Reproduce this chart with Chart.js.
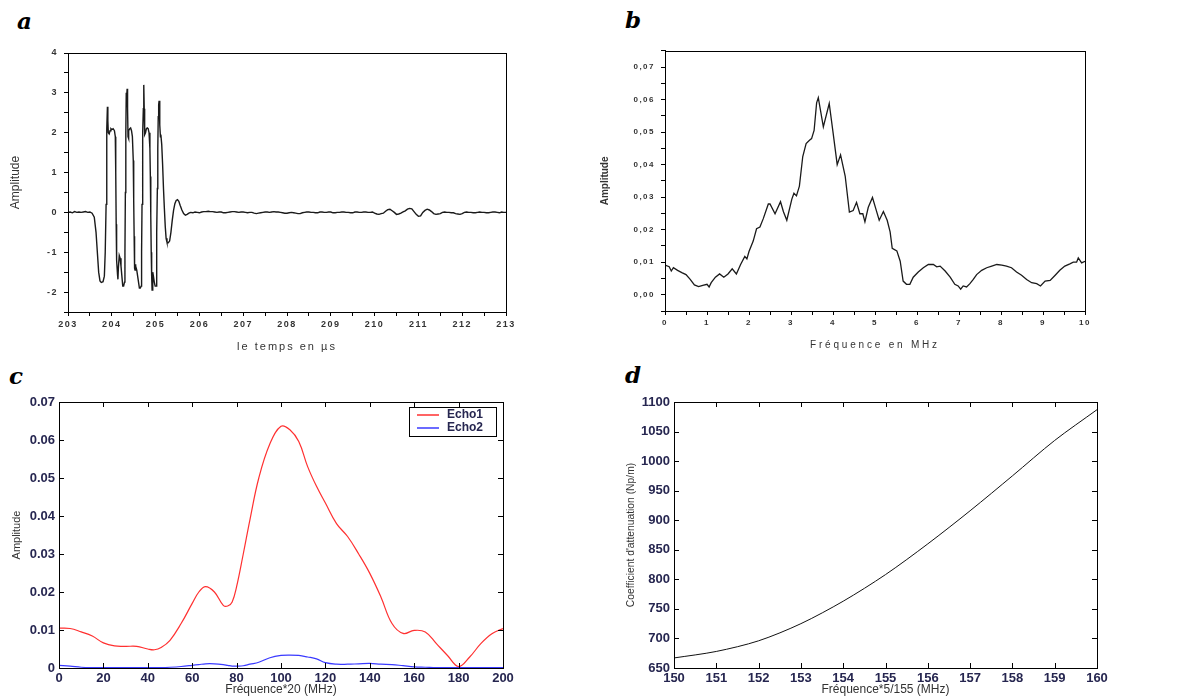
<!DOCTYPE html>
<html>
<head>
<meta charset="utf-8">
<script src="https://cdn.jsdelivr.net/npm/chart.js@4.4.0/dist/chart.umd.min.js"></script>
<style>
body { margin: 0; background: #fff; }
#wrap { position: relative; width: 1193px; height: 697px; overflow: hidden; }
canvas { position: absolute; }
.lbl { position: absolute; font-family: "DejaVu Serif", serif; font-weight: bold; font-style: italic; font-size: 23px; line-height: 23px; color: #000; }
</style>
</head>
<body>
<div id="wrap">
  <div class="lbl" style="left:17px;top:9px">a</div>
  <div class="lbl" style="left:625px;top:8px">b</div>
  <div class="lbl" style="left:9px;top:364px">c</div>
  <div class="lbl" style="left:625px;top:363px">d</div>
  <canvas id="chartA" width="540" height="320" style="left:0;top:40px"></canvas>
  <canvas id="chartB" width="520" height="320" style="left:590px;top:40px"></canvas>
  <canvas id="chartC" width="540" height="309" style="left:0;top:388px"></canvas>
  <canvas id="chartD" width="540" height="309" style="left:590px;top:388px"></canvas>
</div>
<script>
/* a : signal temporel */
var aTime = [203.00, 203.05, 203.10, 203.15, 203.20, 203.25, 203.30, 203.35, 203.40, 203.45, 203.50, 203.55,
  203.60, 203.64, 203.67, 203.70, 203.73, 203.76, 203.80, 203.83, 203.85, 203.87, 203.88, 203.89, 203.90, 203.91,
  203.92, 203.94, 203.96, 203.98, 204.00, 204.03, 204.06, 204.08, 204.09, 204.10, 204.11, 204.13, 204.14, 204.15,
  204.17, 204.19, 204.21, 204.23, 204.25, 204.27, 204.29, 204.30, 204.31, 204.32, 204.33, 204.34, 204.35, 204.36,
  204.37, 204.38, 204.39, 204.41, 204.43, 204.45, 204.47, 204.49, 204.50, 204.51, 204.52, 204.53, 204.54, 204.55,
  204.57, 204.59, 204.61, 204.63, 204.65, 204.67, 204.68, 204.69, 204.70, 204.71, 204.72, 204.73, 204.74, 204.75,
  204.77, 204.79, 204.81, 204.83, 204.85, 204.87, 204.88, 204.89, 204.90, 204.91, 204.92, 204.93, 204.94, 204.95,
  204.97, 204.99, 205.01, 205.02, 205.03, 205.04, 205.05, 205.06, 205.07, 205.08, 205.09, 205.10, 205.11, 205.12,
  205.14, 205.16, 205.18, 205.20, 205.22, 205.24, 205.26, 205.29, 205.32, 205.35, 205.38, 205.41, 205.44, 205.47,
  205.50, 205.53, 205.56, 205.60, 205.64, 205.68, 205.72, 205.76, 205.80, 205.85, 205.90, 205.95, 206.00, 206.05,
  206.10, 206.15, 206.20, 206.25, 206.30, 206.35, 206.40, 206.45, 206.50, 206.55, 206.60, 206.65, 206.70, 206.75,
  206.80, 206.85, 206.90, 206.95, 207.00, 207.05, 207.10, 207.15, 207.20, 207.25, 207.30, 207.35, 207.40, 207.45,
  207.50, 207.55, 207.60, 207.65, 207.70, 207.75, 207.80, 207.85, 207.90, 207.95, 208.00, 208.05, 208.10, 208.15,
  208.20, 208.25, 208.30, 208.35, 208.40, 208.45, 208.50, 208.55, 208.60, 208.65, 208.70, 208.75, 208.80, 208.85,
  208.90, 208.95, 209.00, 209.05, 209.10, 209.15, 209.20, 209.25, 209.30, 209.35, 209.40, 209.45, 209.50, 209.55,
  209.60, 209.65, 209.70, 209.75, 209.80, 209.85, 209.90, 209.95, 210.00, 210.05, 210.10, 210.15, 210.20, 210.25,
  210.30, 210.35, 210.40, 210.45, 210.50, 210.55, 210.60, 210.65, 210.70, 210.75, 210.80, 210.85, 210.90, 210.95,
  211.00, 211.05, 211.10, 211.15, 211.20, 211.25, 211.30, 211.35, 211.40, 211.45, 211.50, 211.55, 211.60, 211.65,
  211.70, 211.75, 211.80, 211.85, 211.90, 211.95, 212.00, 212.05, 212.10, 212.15, 212.20, 212.25, 212.30, 212.35,
  212.40, 212.45, 212.50, 212.55, 212.60, 212.65, 212.70, 212.75, 212.80, 212.85, 212.90, 212.95, 213.00];
var aAmp = [0, 0.01, -0.01, 0.02, 0, 0.01, 0, 0.01, 0.02, 0, 0.01, -0.02,
  -0.12, -0.5, -1.0, -1.5, -1.72, -1.76, -1.74, -1.6, -1.0, 0.2, 1.5, 2.1, 2.65, 2.3,
  2.0, 1.97, 2.05, 2.1, 2.08, 2.1, 2.05, 1.9, 1.0, -0.3, -1.2, -1.55, -1.68, -1.4,
  -1.08, -1.15, -1.35, -1.6, -1.85, -1.85, -1.75, -1.0, 0.5, 2.0, 3.0, 2.9, 3.1, 2.6,
  1.9, 1.85, 2.05, 2.1, 2.12, 2.05, 1.9, 1.3, 0.3, -0.6, -1.4, -1.45, -1.3, -1.35,
  -1.45, -1.6, -1.75, -1.9, -1.9, -1.85, -1.0, 0.2, 1.5, 2.0, 2.6, 3.2, 2.6, 1.95,
  2.0, 2.1, 2.12, 2.1, 2.0, 1.6, 0.9, -0.1, -1.0, -1.6, -1.95, -1.85, -1.5, -1.6,
  -1.75, -1.85, -1.85, -1.5, -0.5, 0.6, 1.6, 2.4, 2.7, 2.8, 2.5, 2.2, 1.9, 1.95,
  1.7, 1.2, 0.6, 0.1, -0.35, -0.65, -0.75, -0.76, -0.72, -0.5, -0.2, 0.05, 0.22, 0.3,
  0.32, 0.28, 0.18, 0.06, -0.03, -0.07, -0.05, -0.02, 0, -0.01, 0.01, 0, -0.01, 0.01,
  0.02, 0.02, 0.03, 0.02, 0.02, 0.01, 0, 0.01, 0.01, -0.01, -0.01, 0, 0.01, 0.02,
  0.02, 0.01, 0, 0.01, 0.01, 0, -0.01, 0, 0, -0.02, -0.03, -0.02, -0.01, 0,
  0.01, 0.01, 0, 0.01, 0.02, 0.01, 0.01, 0, -0.01, -0.02, -0.02, -0.01, 0, -0.01,
  -0.02, -0.03, -0.03, -0.01, 0, 0.01, 0.01, 0, 0, -0.01, -0.01, 0.01, 0.01, 0,
  0, 0.01, 0.01, -0.01, -0.01, 0, 0, 0.01, 0.01, 0, 0, -0.01, -0.01, 0.01,
  0.01, 0, 0, 0.01, 0.01, 0, 0, 0.01, -0.02, -0.04, -0.05, -0.03, -0.02, 0.03,
  0.07, 0.08, 0.04, 0, -0.05, -0.04, -0.02, 0.01, 0.04, 0.08, 0.1, 0.09, 0.02, -0.05,
  -0.1, -0.09, 0, 0.05, 0.08, 0.06, 0.02, -0.03, -0.05, -0.04, -0.03, 0, 0.01, 0,
  0, -0.01, -0.01, -0.03, -0.04, -0.05, -0.03, 0, 0.01, 0, 0, -0.01, -0.01, 0,
  0.01, 0, 0, -0.01, -0.01, 0, 0.01, 0.01, 0, -0.01, 0.01, 0, 0];

/* b : spectre */
var bFreq = [0.0, 0.1, 0.15, 0.2, 0.3, 0.4, 0.5, 0.6, 0.7, 0.8, 0.9, 1.0, 1.05, 1.1, 1.2, 1.3, 1.4, 1.5, 1.6, 1.7,
  1.8, 1.9, 1.95, 2.0, 2.1, 2.18, 2.26, 2.34, 2.46, 2.5, 2.62, 2.75, 2.82, 2.9, 3.02, 3.07, 3.13, 3.2, 3.28, 3.36,
  3.44, 3.49, 3.55, 3.61, 3.65, 3.77, 3.91, 4.0, 4.1, 4.18, 4.29, 4.39, 4.48, 4.56, 4.64, 4.71, 4.76, 4.84, 4.94, 5.02,
  5.1, 5.2, 5.29, 5.36, 5.41, 5.52, 5.6, 5.67, 5.75, 5.83, 5.91, 6.03, 6.15, 6.27, 6.39, 6.47, 6.55, 6.67, 6.79, 6.9,
  6.98, 7.04, 7.1, 7.18, 7.26, 7.34, 7.42, 7.54, 7.66, 7.78, 7.9, 8.02, 8.13, 8.25, 8.37, 8.49, 8.61, 8.73, 8.85, 8.94,
  9.05, 9.17, 9.29, 9.4, 9.52, 9.64, 9.72, 9.8, 9.84, 9.92, 10.0];
var bAmp = [0.0091, 0.0086, 0.0073, 0.0083, 0.0075, 0.0068, 0.0062, 0.0047, 0.003, 0.0025, 0.0029, 0.0032, 0.0024, 0.0037, 0.0054, 0.0064, 0.0054, 0.0064, 0.008, 0.0064,
  0.0093, 0.0118, 0.011, 0.0133, 0.0165, 0.0203, 0.0208, 0.0234, 0.0279, 0.0279, 0.0249, 0.0286, 0.0255, 0.0229, 0.0294, 0.0312, 0.0304, 0.0334, 0.0425, 0.0465,
  0.0475, 0.048, 0.0505, 0.059, 0.0606, 0.0516, 0.0588, 0.05, 0.040, 0.043, 0.0365, 0.0254, 0.0259, 0.0284, 0.0249, 0.0249, 0.0224, 0.0269, 0.0299, 0.0264,
  0.0229, 0.0256, 0.0229, 0.0193, 0.0143, 0.0135, 0.0103, 0.0042, 0.0032, 0.0032, 0.0054, 0.007, 0.0083, 0.0093, 0.0093, 0.0086, 0.0088, 0.0073, 0.0054, 0.0032,
  0.0027, 0.0017, 0.0027, 0.0024, 0.0034, 0.0047, 0.0062, 0.0075, 0.0083, 0.0088, 0.0093, 0.0091, 0.0088, 0.0083, 0.007, 0.006, 0.0047, 0.0037, 0.0034, 0.0027,
  0.0042, 0.0044, 0.006, 0.0075, 0.0088, 0.0095, 0.01, 0.01, 0.0113, 0.0098, 0.0103];

/* c : Echo1 / Echo2 */
var cFreq = [0, 5, 10, 15, 20, 25, 30, 35, 40, 43, 46, 50, 55, 60, 63, 66, 70, 74, 76, 78, 80, 83, 86, 90, 95,
  100, 104, 108, 112, 116, 120, 125, 130, 135, 140, 145, 150, 155, 160, 165, 170, 175, 180, 185, 190, 195, 200];
var cEcho1 = [0.0105, 0.0104, 0.0095, 0.0084, 0.0066, 0.0058, 0.0057, 0.0057, 0.0050, 0.0048, 0.0054, 0.0073, 0.0117, 0.0170, 0.0200, 0.0214, 0.0200, 0.0165, 0.0163, 0.0174, 0.0214, 0.0300, 0.0390, 0.0500, 0.0590,
  0.0636, 0.0627, 0.0596, 0.0530, 0.0478, 0.0434, 0.0380, 0.0346, 0.0300, 0.0249, 0.0187, 0.0117, 0.0091, 0.0099, 0.0095, 0.0064, 0.0033, 0.0004, 0.0029, 0.0064, 0.0090, 0.0104];
var cEcho2 = [0.0007, 0.0005, 0.0002, 0.0001, 0.0001, 0.0001, 0.0001, 0.0001, 0.0001, 0.0001, 0.0001, 0.0002, 0.0004, 0.0007, 0.0009, 0.0011, 0.0011, 0.0009, 0.0007, 0.0005, 0.0005, 0.0006, 0.0010, 0.0015, 0.0027,
  0.0033, 0.0034, 0.0033, 0.0029, 0.0024, 0.0014, 0.0010, 0.0010, 0.0011, 0.0012, 0.0010, 0.0009, 0.0006, 0.0003, 0.0002, 0.0001, 0.0001, 0.0001, 0.0001, 0.0001, 0.0001, 0.0001];

/* d : coefficient d'attenuation */
var dFreq = [150, 151, 152, 153, 154, 155, 156, 157, 158, 159, 160];
var dCoef = [667, 678, 696, 725, 763, 808, 860, 916, 975, 1035, 1087];

function pts(xs, ys) {
    return xs.map(function(v, i) { return {x: v, y: ys[i]}; });
}

/* cadre complet autour de la zone de tracé */
var frame = {
    id: 'frame',
    afterDraw: function(chart) {
        var a = chart.chartArea, ctx = chart.ctx;
        ctx.save();
        ctx.strokeStyle = '#000';
        ctx.lineWidth = 1;
        ctx.strokeRect(Math.round(a.left) + 0.5, Math.round(a.top) + 0.5, Math.round(a.right - a.left), Math.round(a.bottom - a.top));
        ctx.restore();
    }
};

/* graduations vers l'intérieur (style matlab) */
var innerTicks = {
    id: 'innerTicks',
    afterDraw: function(chart) {
        var a = chart.chartArea, ctx = chart.ctx, x = chart.scales.x, y = chart.scales.y;
        ctx.save();
        ctx.strokeStyle = '#000';
        ctx.lineWidth = 1;
        ctx.beginPath();
        x.ticks.forEach(function(t) {
            var px = Math.round(x.getPixelForValue(t.value)) + 0.5;
            ctx.moveTo(px, a.bottom); ctx.lineTo(px, a.bottom - 5);
            ctx.moveTo(px, a.top); ctx.lineTo(px, a.top + 5);
        });
        y.ticks.forEach(function(t) {
            var py = Math.round(y.getPixelForValue(t.value)) + 0.5;
            ctx.moveTo(a.left, py); ctx.lineTo(a.left + 5, py);
            ctx.moveTo(a.right, py); ctx.lineTo(a.right - 5, py);
        });
        ctx.stroke();
        ctx.restore();
    }
};

/* espacement des lettres pour a et b (seul le titre de l'axe x est plus espacé) */
function spacing(tickSp, titleSp) {
    return {
        id: 'spacing',
        beforeDraw: function(chart) {
            var ctx = chart.ctx;
            ctx.letterSpacing = tickSp;
            Object.values(chart.scales).forEach(function(s) {
                if (!s._wrapped) {
                    var orig = s.drawTitle;
                    var sp = s.axis === 'x' ? titleSp : '0px';
                    s.drawTitle = function() {
                        ctx.letterSpacing = sp;
                        orig.apply(this, arguments);
                        ctx.letterSpacing = tickSp;
                    };
                    s._wrapped = true;
                }
            });
        },
        afterDraw: function(chart) { chart.ctx.letterSpacing = '0px'; }
    };
}

/* légende encadrée du graphe c */
var boxLegend = {
    id: 'boxLegend',
    afterDraw: function(chart) {
        var a = chart.chartArea, ctx = chart.ctx;
        var w = 87, h = 29, left = a.right - 7 - w, top = a.top + 5;
        ctx.save();
        ctx.fillStyle = '#fff';
        ctx.fillRect(left, top, w, h);
        ctx.strokeStyle = '#000';
        ctx.lineWidth = 1;
        ctx.strokeRect(Math.round(left) + 0.5, Math.round(top) + 0.5, w, h);
        ctx.font = 'bold 12px "Liberation Sans", Arial, sans-serif';
        ctx.textBaseline = 'middle';
        chart.data.datasets.forEach(function(ds, i) {
            var yy = top + 8 + i * 13;
            ctx.strokeStyle = ds.borderColor;
            ctx.lineWidth = 1.5;
            ctx.beginPath();
            ctx.moveTo(left + 8, yy); ctx.lineTo(left + 30, yy);
            ctx.stroke();
            ctx.fillStyle = '#262650';
            ctx.fillText(ds.label, left + 38, yy);
        });
        ctx.restore();
    }
};

Chart.defaults.font.family = '"Liberation Sans", Arial, sans-serif';
Chart.defaults.animation = false;
Chart.defaults.plugins.legend.display = false;
Chart.defaults.plugins.tooltip.enabled = false;
Chart.defaults.elements.point.radius = 0;

/* Chart a */
var tickFontA = {size: 9, weight: 'bold'};
var chartA = new Chart(document.getElementById('chartA'), {
    type: 'line',
    data: {datasets: [{data: pts(aTime, aAmp), borderColor: '#1a1a1a', borderWidth: 1.4, tension: 0}]},
    options: {
        responsive: false,
        layout: {padding: {top: 13, right: 34}},
        scales: {
            x: {
                type: 'linear', min: 203, max: 213,
                afterFit: function(s) { s.height = 48; },
                grid: {drawOnChartArea: false, tickLength: 4, color: '#000'},
                border: {color: '#000'},
                ticks: {stepSize: 0.5, autoSkip: false, maxRotation: 0, padding: 3, color: '#333', font: tickFontA,
                    callback: function(v) { return Number.isInteger(v) ? String(v) : ''; }},
                title: {display: true, text: 'le temps en µs', color: '#333', font: {size: 11}, padding: {bottom: 6}}
            },
            y: {
                min: -2.5, max: 4,
                afterFit: function(s) { s.width = 68; },
                grid: {drawOnChartArea: false, tickLength: 4, color: '#000'},
                border: {color: '#000'},
                ticks: {stepSize: 0.5, autoSkip: false, padding: 6, color: '#333', font: tickFontA,
                    callback: function(v) { return Number.isInteger(v) ? String(v) : ''; }},
                title: {display: true, text: 'Amplitude', color: '#333', font: {size: 12}, padding: {top: 8}}
            }
        }
    },
    plugins: [frame, spacing('1.5px', '2px')]
});

/* Chart b */
var chartB = new Chart(document.getElementById('chartB'), {
    type: 'line',
    data: {datasets: [{data: pts(bFreq, bAmp), borderColor: '#1a1a1a', borderWidth: 1.3, tension: 0}]},
    options: {
        responsive: false,
        layout: {padding: {top: 6, right: 25}},
        scales: {
            x: {
                type: 'linear', min: 0, max: 10,
                afterFit: function(s) { s.height = 49; },
                grid: {drawOnChartArea: false, tickLength: 4, color: '#000'},
                border: {color: '#000'},
                ticks: {stepSize: 0.5, autoSkip: false, maxRotation: 0, padding: 3, color: '#333', font: {size: 8, weight: 'bold'},
                    callback: function(v) { return Number.isInteger(v) ? String(v) : ''; }},
                title: {display: true, text: 'Fréquence en MHz', color: '#333', font: {size: 10}, padding: {bottom: 9}}
            },
            y: {
                min: -0.005, max: 0.075,
                afterFit: function(s) { s.width = 75; },
                grid: {drawOnChartArea: false, tickLength: 4, color: '#000'},
                border: {color: '#000'},
                ticks: {stepSize: 0.005, autoSkip: false, padding: 6, color: '#333', font: {size: 8, weight: 'bold'},
                    callback: function(v) {
                        var n = Math.round(v * 1000);
                        if (n % 10 !== 0) return '';
                        return '0,0' + (n / 10);
                    }},
                title: {display: true, text: 'Amplitude', color: '#333', font: {size: 10, weight: 'bold'}, padding: {top: 9}}
            }
        }
    },
    plugins: [frame, spacing('1.5px', '2.8px')]
});

/* Chart c */
var tickFontC = {size: 13, weight: 'bold'};
var chartC = new Chart(document.getElementById('chartC'), {
    type: 'line',
    data: {datasets: [
        {label: 'Echo1', data: pts(cFreq, cEcho1), borderColor: '#ff3030', borderWidth: 1.2, tension: 0.4},
        {label: 'Echo2', data: pts(cFreq, cEcho2), borderColor: '#3a3aff', borderWidth: 1.2, tension: 0.4}
    ]},
    options: {
        responsive: false,
        layout: {padding: {top: 14, right: 37}},
        scales: {
            x: {
                type: 'linear', min: 0, max: 200,
                afterFit: function(s) { s.height = 29; },
                grid: {display: false, drawTicks: false},
                border: {display: false},
                ticks: {stepSize: 20, maxRotation: 0, padding: 3, color: '#262650', font: tickFontC},
                title: {display: true, text: 'Fréquence*20 (MHz)', color: '#333', font: {size: 12}, padding: {top: 0, bottom: 0}}
            },
            y: {
                min: 0, max: 0.07,
                afterFit: function(s) { s.width = 59; },
                grid: {display: false, drawTicks: false},
                border: {display: false},
                ticks: {stepSize: 0.01, padding: 4, color: '#262650', font: tickFontC,
                    callback: function(v) { return v === 0 ? '0' : v.toFixed(2); }},
                title: {display: true, text: 'Amplitude', color: '#333', font: {size: 11}, padding: {top: 10}}
            }
        }
    },
    plugins: [frame, innerTicks, boxLegend]
});

/* Chart d */
var chartD = new Chart(document.getElementById('chartD'), {
    type: 'line',
    data: {datasets: [{data: pts(dFreq, dCoef), borderColor: '#111', borderWidth: 1, tension: 0.3}]},
    options: {
        responsive: false,
        layout: {padding: {top: 14, right: 33}},
        scales: {
            x: {
                type: 'linear', min: 150, max: 160,
                afterFit: function(s) { s.height = 29; },
                grid: {display: false, drawTicks: false},
                border: {display: false},
                ticks: {stepSize: 1, maxRotation: 0, padding: 3, color: '#262650', font: tickFontC},
                title: {display: true, text: 'Fréquence*5/155 (MHz)', color: '#333', font: {size: 12}, padding: {top: 0, bottom: 0}}
            },
            y: {
                min: 650, max: 1100,
                afterFit: function(s) { s.width = 84; },
                grid: {display: false, drawTicks: false},
                border: {display: false},
                ticks: {stepSize: 50, padding: 4, color: '#262650', font: tickFontC,
                    callback: function(v) { return String(v); }},
                title: {display: true, text: "Coefficient d'attenuation (Np/m)", color: '#333', font: {size: 10.3}, padding: {top: 35}}
            }
        }
    },
    plugins: [frame, innerTicks]
});
</script>
</body>
</html>
